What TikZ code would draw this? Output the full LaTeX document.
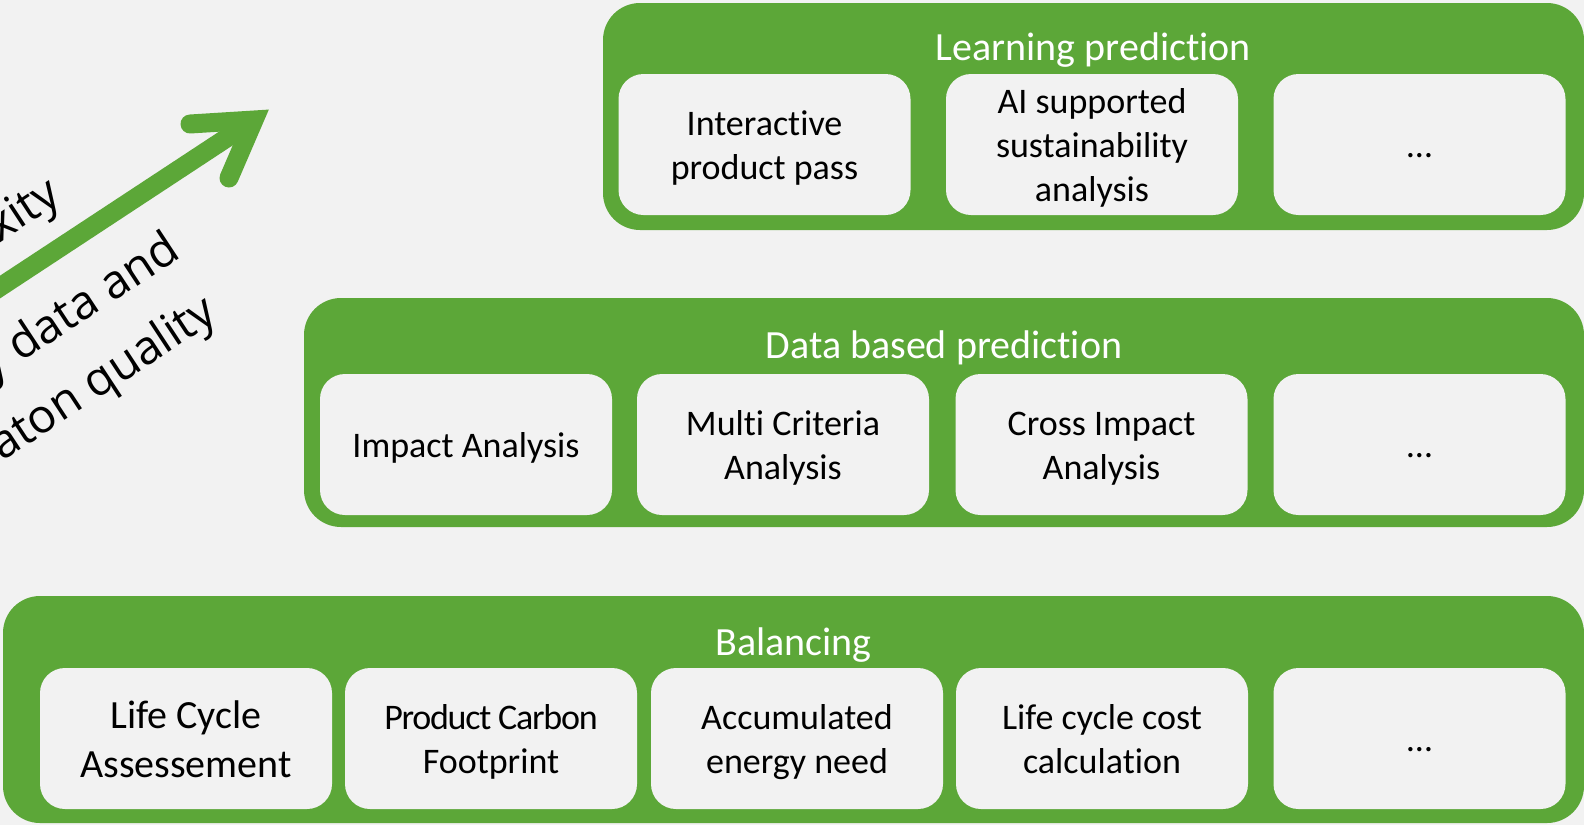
\documentclass[tikz,border=0pt]{standalone}
\usepackage{fontspec}
\setmainfont{Carlito}[Ligatures={NoCommon,NoContextual}, Contextuals={NoAlternate}]
\newfontfamily\arrowfont{Open Sans}
\definecolor{grn}{HTML}{5CA738}
\definecolor{bg}{HTML}{F2F2F2}
\newcommand{\lst}{\vphantom{lfdgyAC}}
\newcommand{\nk}{\kern0pt }
\begin{document}
\begin{tikzpicture}[x=1pt,y=-1pt,
  panel/.style={fill=grn, rounded corners=37pt, inner sep=0pt, draw=none},
  item/.style={fill=bg, rounded corners=25pt, minimum width=292pt, minimum height=141pt, inner sep=0pt},
  itxt/.style={align=center, inner sep=0pt, font=\fontsize{36}{44}\selectfont},
  ptitle/.style={text=white, font=\fontsize{40}{48}\selectfont, anchor=base, inner sep=0pt},
  arrowtxt/.style={font=\arrowfont\fontsize{47}{56}\selectfont, rotate=33.3, anchor=base east, inner sep=0pt},
  arrowline/.style={draw=grn, line width=19pt}]
\useasboundingbox (0,0) rectangle (1584,825);
\fill[bg] (0,0) rectangle (1584,825);
\begin{scope}
\clip (0,0) rectangle (1584,825);
% panels
\node[panel, minimum width=981pt, minimum height=227pt] (lp) at (1093.5,116.5) {};
\node[panel, minimum width=1280pt, minimum height=229pt] (dp) at (944,412.5) {};
\node[panel, minimum width=1581pt, minimum height=227pt] (bp) at (793.5,709.5) {};
% titles
\node[ptitle] (lpt) at (1093.5,60) {Learning predict\nk ion};
\node[ptitle] (dpt) at (944,358) {Data based predict\nk ion};
\node[ptitle] (bpt) at (793.5,655) {Balancing};
% top row
\node[item] (l1) at (764.5,144.5) {};
\node[item] (l2) at (1092,144.5) {};
\node[item] (l3) at (1419.5,144.5) {};
\node[itxt] (l1t) at ([yshift=-3.7pt]l1.center) {\lst Interact\nk ive\\\lst product pass};
\node[itxt] (l2t) at ([yshift=-3.7pt]l2.center) {\lst AI supported\\\lst sustainability\\\lst analysis};
\node[itxt] (l3t) at ([yshift=-3.7pt]l3.center) {\lst …};
% middle row
\node[item] (d1) at (466,444.5) {};
\node[item] (d2) at (783,444.5) {};
\node[item] (d3) at (1101.5,444.5) {};
\node[item] (d4) at (1419.5,444.5) {};
\node[itxt] (d1t) at ([yshift=-3.7pt]d1.center) {\lst Impact Analysis};
\node[itxt] (d2t) at ([yshift=-3.7pt]d2.center) {\lst Mult\nk i Criteria\\\lst Analysis};
\node[itxt] (d3t) at ([yshift=-3.7pt]d3.center) {\lst Cross Impact\\\lst Analysis};
\node[itxt] (d4t) at ([yshift=-3.7pt]d4.center) {\lst …};
% bottom row
\node[item] (b1) at (186,738.5) {};
\node[item] (b2) at (491,738.5) {};
\node[item] (b3) at (797,738.5) {};
\node[item] (b4) at (1102,738.5) {};
\node[item] (b5) at (1419.5,738.5) {};
\node[itxt, font=\fontsize{40}{49}\selectfont] (b1t) at ([yshift=-4pt]b1.center) {\lst Life Cycle\\\lst Assessement};
\node[itxt] (b2t) at ([yshift=-3.7pt]b2.center) {\lst{\addfontfeature{LetterSpace=-3.5}Product Carbon}\\\lst Footprint};
\node[itxt] (b3t) at ([yshift=-3.7pt]b3.center) {\lst Accumulated\\\lst energy need};
\node[itxt] (b4t) at ([yshift=-3.7pt]b4.center) {\lst Life cycle cost\\\lst calculat\nk ion};
\node[itxt] (b5t) at ([yshift=-3.7pt]b5.center) {\lst …};
% arrow
\coordinate (ashaft) at (-20,300.2);
\coordinate (avert) at (254,120);
\coordinate (aarm1) at (190,124);
\coordinate (aarm2) at (229,178);
\draw[arrowline] (ashaft) -- (avert);
\draw[arrowline, line cap=round, line join=miter] (aarm1) -- (avert) -- (aarm2);
% rotated texts
\node[arrowtxt] (t1) at (63.7,200.9) {complexity};
\node[arrowtxt] (t2) at (182.5,256.4) {Availability data and};
\node[arrowtxt] (t3) at (219.7,318.9) {informaton quality};
\end{scope}
\end{tikzpicture}
\end{document}
